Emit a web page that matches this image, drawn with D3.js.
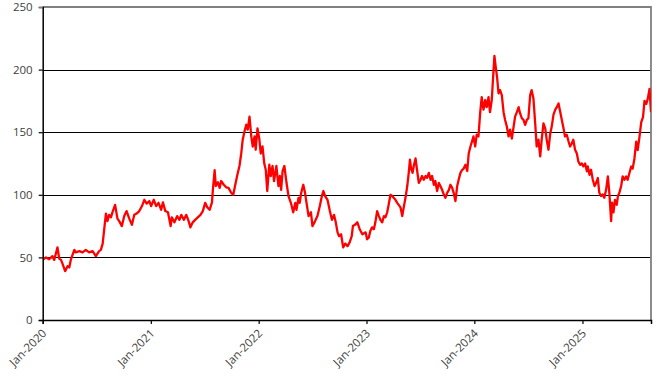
<!DOCTYPE html>
<html>
<head>
<meta charset="utf-8">
<script src="https://cdn.jsdelivr.net/npm/d3@7"></script>
<style>
  html, body { margin: 0; padding: 0; background: #fff; }
  svg { display: block; }
  .tick text { font-family: "Open Sans", "Noto Sans", sans-serif; font-size: 11.5px; fill: #404040; }
</style>
</head>
<body>
<svg id="chart" width="671" height="380"></svg>
<script>
// ---- DATA ----
const yTicks = [0, 50, 100, 150, 200, 250];
const xTickDates = ["2020-01-01", "2021-01-01", "2022-01-01", "2023-01-01", "2024-01-01", "2025-01-01"];
const axisStart = "2020-01-01";
const axisEnd = "2025-08-21";

const series2020 = [
  ["2020-01-01",48],["2020-01-12",50],["2020-01-23",48.5],["2020-02-03",51],["2020-02-09",48],
  ["2020-02-20",58],["2020-02-26",49],["2020-03-03",48],["2020-03-08",45],["2020-03-17",39],
  ["2020-03-25",43],["2020-03-31",42],["2020-04-05",48],["2020-04-17",56],["2020-04-22",54],
  ["2020-05-04",55],["2020-05-15",54],["2020-05-26",56],["2020-06-06",54],["2020-06-18",55],
  ["2020-06-29",51],["2020-07-10",55],["2020-07-16",56],["2020-07-22",61],["2020-07-27",72],
  ["2020-08-02",85],["2020-08-07",79],["2020-08-13",84],["2020-08-19",82],["2020-08-24",86],
  ["2020-09-02",92],["2020-09-10",81],["2020-09-16",79],["2020-09-25",75],["2020-10-03",83],
  ["2020-10-11",87],["2020-10-20",81],["2020-10-29",76],["2020-11-06",84],["2020-11-14",85],
  ["2020-11-23",87],["2020-12-02",91],["2020-12-10",96],["2020-12-18",93],["2020-12-27",95]
];
const series2021 = [
  ["2021-01-02",91],["2021-01-11",96],["2021-01-19",91],["2021-01-27",93.6],["2021-02-05",88],
  ["2021-02-11",94],["2021-02-19",87],["2021-02-28",86],["2021-03-09",75],["2021-03-13",82],
  ["2021-03-22",78],["2021-03-31",83],["2021-04-08",80],["2021-04-14",84],["2021-04-23",80],
  ["2021-05-01",84],["2021-05-09",79],["2021-05-15",74],["2021-05-23",78],["2021-05-31",80],
  ["2021-06-09",82],["2021-06-18",84],["2021-06-26",87],["2021-07-04",93.6],["2021-07-11",90],
  ["2021-07-19",88],["2021-07-27",94],["2021-07-30",104],["2021-08-05",119.6],["2021-08-09",107],
  ["2021-08-16",110],["2021-08-22",105.5],["2021-08-27",111],["2021-09-05",108],["2021-09-13",106],
  ["2021-09-21",105.5],["2021-09-30",101.6],["2021-10-07",100],["2021-10-13",107],["2021-10-20",115],
  ["2021-10-28",123],["2021-11-03",133],["2021-11-08",144],["2021-11-14",150.5],["2021-11-20",156],
  ["2021-11-25",152],["2021-12-01",162.4],["2021-12-07",146.6],["2021-12-12",138.6],["2021-12-18",146.6],
  ["2021-12-22",136],["2021-12-28",153]
];
const series2022 = [
  ["2022-01-03",145],["2022-01-08",133],["2022-01-14",138.6],["2022-01-20",125],["2022-01-25",120],
  ["2022-01-30",103],["2022-02-06",124],["2022-02-11",115],["2022-02-17",123],["2022-02-22",111],
  ["2022-03-02",123],["2022-03-09",107],["2022-03-14",115],["2022-03-18",104],["2022-03-23",119],
  ["2022-03-29",123],["2022-04-05",110],["2022-04-12",99],["2022-04-20",93.6],["2022-04-28",86],
  ["2022-05-05",93.6],["2022-05-09",88],["2022-05-16",97.6],["2022-05-20",93.6],["2022-05-25",101.6],
  ["2022-06-01",108],["2022-06-07",101.6],["2022-06-12",93.6],["2022-06-19",83],["2022-06-27",86],
  ["2022-07-02",75],["2022-07-11",79],["2022-07-19",83],["2022-07-27",91],["2022-08-03",99],
  ["2022-08-08",103],["2022-08-14",99],["2022-08-22",96],["2022-08-30",87],["2022-09-06",80],
  ["2022-09-13",84],["2022-09-19",78],["2022-09-25",70],["2022-09-30",67],["2022-10-07",68.5],
  ["2022-10-14",58],["2022-10-21",61],["2022-10-29",59],["2022-11-05",62],["2022-11-12",67],
  ["2022-11-16",75],["2022-11-23",76],["2022-12-01",78],["2022-12-09",72.5],["2022-12-18",68.5],
  ["2022-12-29",70]
];
const series2023 = [
  ["2023-01-03",64.5],["2023-01-09",66],["2023-01-14",71],["2023-01-20",74],["2023-01-26",72.5],
  ["2023-01-31",78],["2023-02-06",87],["2023-02-12",83],["2023-02-17",80],["2023-02-23",78],
  ["2023-03-01",83],["2023-03-06",82],["2023-03-12",86],["2023-03-17",92],["2023-03-23",100],
  ["2023-03-29",99],["2023-04-03",97.6],["2023-04-09",96],["2023-04-15",93.6],["2023-04-20",92],
  ["2023-04-26",90],["2023-05-02",83],["2023-05-07",90],["2023-05-13",97.6],["2023-05-19",107],
  ["2023-05-24",117.5],["2023-05-28",128],["2023-06-01",121],["2023-06-06",117.5],["2023-06-10",123],
  ["2023-06-16",129],["2023-06-21",120],["2023-06-27",109.5],["2023-07-03",112],["2023-07-08",115],
  ["2023-07-14",112],["2023-07-20",115],["2023-07-25",113.5],["2023-07-31",117.5],["2023-08-06",112],
  ["2023-08-11",115],["2023-08-17",108],["2023-08-22",111],["2023-08-28",103],["2023-09-03",109.5],
  ["2023-09-08",107],["2023-09-14",104],["2023-09-20",100],["2023-09-25",97.6],["2023-10-01",101.6],
  ["2023-10-07",104],["2023-10-12",108],["2023-10-18",105.5],["2023-10-23",101.6],["2023-10-29",95],
  ["2023-11-04",107],["2023-11-09",112],["2023-11-15",117.5],["2023-11-21",120],["2023-11-26",121],
  ["2023-12-02",124],["2023-12-08",119],["2023-12-13",133],["2023-12-19",138.6],["2023-12-29",146.6]
];
const series2024 = [
  ["2024-01-04",138.6],["2024-01-09",148],["2024-01-15",146.6],["2024-01-21",166],["2024-01-26",178],
  ["2024-02-01",168],["2024-02-07",175.7],["2024-02-12",170],["2024-02-18",178],["2024-02-23",166],
  ["2024-02-29",175.7],["2024-03-06",199.5],["2024-03-09",211],["2024-03-14",201],["2024-03-18",194],
  ["2024-03-23",181],["2024-03-28",183.6],["2024-04-03",179.6],["2024-04-09",166],["2024-04-14",160],
  ["2024-04-20",154.5],["2024-04-26",146.6],["2024-05-01",152],["2024-05-07",145],["2024-05-13",154.5],
  ["2024-05-18",162.4],["2024-05-24",166],["2024-05-30",170],["2024-06-04",165],["2024-06-10",161],
  ["2024-06-15",160],["2024-06-21",155.8],["2024-06-27",160],["2024-07-02",161],["2024-07-08",179.6],
  ["2024-07-13",183.6],["2024-07-19",177],["2024-07-25",157],["2024-07-30",138.6],["2024-08-05",144],
  ["2024-08-11",130.7],["2024-08-16",144],["2024-08-22",157],["2024-08-28",153],["2024-09-02",144],
  ["2024-09-08",136],["2024-09-14",149],["2024-09-19",154.5],["2024-09-25",164],["2024-10-01",168],
  ["2024-10-06",170],["2024-10-12",173],["2024-10-18",166],["2024-10-23",160],["2024-10-29",153],
  ["2024-11-03",146.6],["2024-11-09",148],["2024-11-15",142.6],["2024-11-20",138.6],["2024-11-26",141],
  ["2024-12-01",144],["2024-12-07",136],["2024-12-13",133],["2024-12-18",126.7],["2024-12-24",124],
  ["2024-12-30",125]
];
const series2025 = [
  ["2025-01-04",122.7],["2025-01-10",125],["2025-01-16",118.8],["2025-01-19",122.6],["2025-01-25",116],
  ["2025-01-30",120],["2025-02-05",112],["2025-02-11",107],["2025-02-16",109.5],["2025-02-22",113.4],
  ["2025-02-27",101.6],["2025-03-05",99],["2025-03-11",100.3],["2025-03-16",97.6],["2025-03-22",104],
  ["2025-03-28",114.7],["2025-04-02",101.6],["2025-04-08",79],["2025-04-11",93.7],["2025-04-16",86],
  ["2025-04-21",96],["2025-04-27",92],["2025-05-01",99],["2025-05-06",101.6],["2025-05-12",107],
  ["2025-05-17",114.7],["2025-05-23",112],["2025-05-29",114.7],["2025-06-03",112],["2025-06-09",117.4],
  ["2025-06-15",122.6],["2025-06-20",121],["2025-06-26",129],["2025-07-02",142.4],["2025-07-07",135.8],
  ["2025-07-13",146.3],["2025-07-19",158],["2025-07-25",162],["2025-07-30",175],["2025-08-05",172.6],
  ["2025-08-10",176.6],["2025-08-16",184.5],["2025-08-21",166]
];

// ---- CHART ----
const parse = d3.timeParse("%Y-%m-%d");
const data = [].concat(series2020, series2021, series2022, series2023, series2024, series2025)
  .map(([d, v]) => ({ date: parse(d), value: v }));

const W = 671, H = 380;
const margin = { top: 7, right: 20, bottom: 60, left: 42.7 };
const x0 = margin.left, x1 = W - margin.right, y0 = H - margin.bottom, y1 = margin.top;

const x = d3.scaleTime().domain([parse(axisStart), parse(axisEnd)]).range([x0, x1]);
const y = d3.scaleLinear().domain([0, 250]).range([y0, y1]);

const svg = d3.select("#chart");

// gridlines
svg.append("g").selectAll("line")
  .data(yTicks.filter(t => t > 0 && t < 250))
  .join("line")
  .attr("x1", x0).attr("x2", x1)
  .attr("y1", d => Math.round(y(d)) + 0.5).attr("y2", d => Math.round(y(d)) + 0.5)
  .attr("stroke", "#000").attr("stroke-width", 1);

// plot border (top & right, grey)
svg.append("path")
  .attr("d", `M${x0},${y(250)}H${x1}V${y0}`)
  .attr("fill", "none").attr("stroke", "#808080").attr("stroke-width", 1.8);

// line
svg.append("clipPath").attr("id", "clip").append("rect")
  .attr("x", x0).attr("y", y1).attr("width", x1 - x0).attr("height", y0 - y1);

svg.append("path")
  .datum(data)
  .attr("clip-path", "url(#clip)")
  .attr("fill", "none")
  .attr("stroke", "#ff0000")
  .attr("stroke-width", 2.3)
  .attr("stroke-linejoin", "round")
  .attr("d", d3.line().x(d => x(d.date)).y(d => y(d.value)));

// y axis
const yAxis = svg.append("g")
  .attr("transform", `translate(${x0},0)`)
  .call(d3.axisLeft(y).tickValues(yTicks).tickSize(4).tickPadding(6).tickFormat(d3.format("d")));
yAxis.select(".domain").attr("stroke", "#000").attr("stroke-width", 1.5);
yAxis.selectAll(".tick line").attr("stroke", "#000").attr("stroke-width", 1.2);
yAxis.selectAll(".tick").filter(d => d === 250).select("line").attr("stroke", "#808080");

// x axis
const fmt = d3.timeFormat("%b-%Y");
const xAxis = svg.append("g")
  .attr("transform", `translate(0,${y0})`)
  .call(d3.axisBottom(x).tickValues(xTickDates.map(parse)).tickSize(4).tickFormat(fmt));
xAxis.select(".domain").attr("stroke", "#000").attr("stroke-width", 1.5);
xAxis.selectAll(".tick line").attr("stroke", "#000").attr("stroke-width", 1.2);
xAxis.selectAll(".tick text")
  .attr("text-anchor", "end")
  .attr("x", 0).attr("y", 0).attr("dy", 0)
  .attr("transform", "translate(4,14) rotate(-45)");
</script>
</body>
</html>
